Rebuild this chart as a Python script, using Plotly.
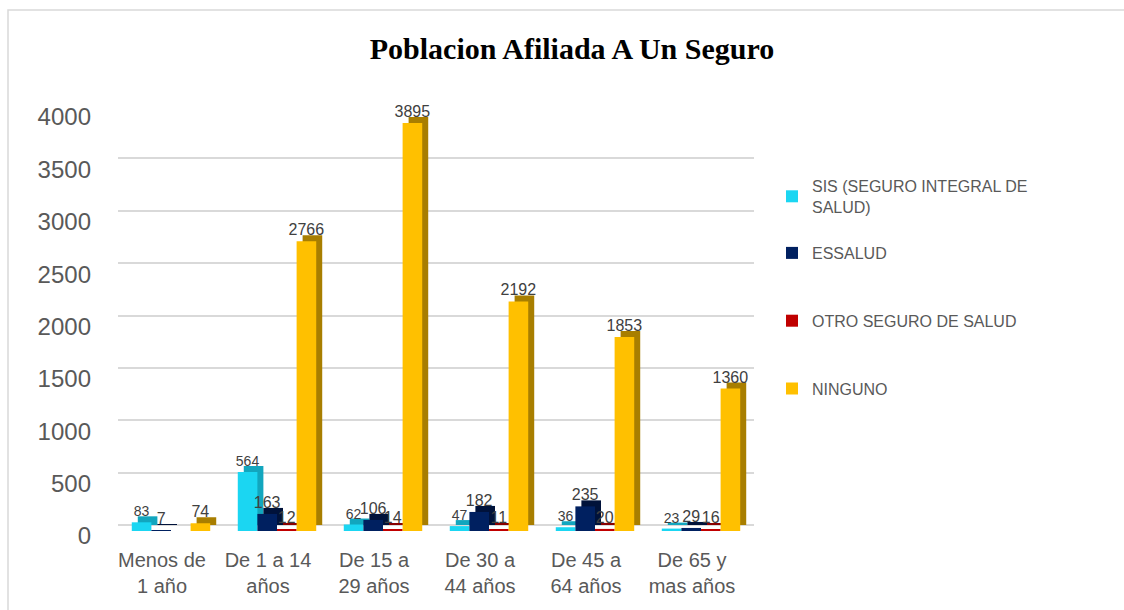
import plotly.graph_objects as go

categories = ["Menos de<br>1 año", "De 1 a 14<br>años", "De 15 a<br>29 años",
              "De 30 a<br>44 años", "De 45 a<br>64 años", "De 65 y<br>mas años"]
series_names = ["SIS (SEGURO INTEGRAL DE<br>SALUD)", "ESSALUD", "OTRO SEGURO DE SALUD", "NINGUNO"]
sis = [83, 564, 62, 47, 36, 23]
essalud = [7, 163, 106, 182, 235, 29]
otro = [None, 12, 14, 11, 20, 16]
ninguno = [74, 2766, 3895, 2192, 1853, 1360]
y_ticks = [0, 500, 1000, 1500, 2000, 2500, 3000, 3500, 4000]

front_colors = ["#1BD6F2", "#002060", "#C00000", "#FFC000"]
side_colors = ["#12A6BE", "#00123A", "#880000", "#A87E00"]
label_sizes = [14, 16, 16, 16]
values = [sis, essalud, otro, ninguno]

FONT = "Liberation Sans, Arial, sans-serif"

# plot geometry (pixels)
W, H = 1124, 610
L, R = 118, 754
T, B = 112, 531
plot_w, plot_h = R - L, B - T
ymax = 4000
dx_px, dy_px = 6, 6
dx = dx_px * 6 / plot_w
dy = dy_px * ymax / plot_h

fig = go.Figure()

# darker copies shifted up/right to give the bars a depth face
for name, vals, col in zip(series_names, values, side_colors):
    fig.add_trace(go.Bar(x=categories, y=vals, marker=dict(color=col, line=dict(width=0)),
                         showlegend=False, hoverinfo="skip", xaxis="x", yaxis="y"))

# front faces
legend_ids = ["legend", "legend2", "legend2", "legend2"]
for i, (name, vals, col) in enumerate(zip(series_names, values, front_colors)):
    fig.add_trace(go.Bar(x=categories, y=vals, name=name, legendgroup=str(i),
                         legend=legend_ids[i],
                         marker=dict(color=col, line=dict(width=0)),
                         text=[("" if v is None else str(v)) for v in vals],
                         textposition="outside", cliponaxis=False, constraintext="none",
                         textfont=dict(family=FONT, size=label_sizes[i], color="#404040"),
                         xaxis="x2", yaxis="y2"))

legend_font = dict(family=FONT, size=16, color="#595959")

fig.update_layout(
    width=W, height=H,
    margin=dict(l=L, r=W - R, t=T, b=H - B, autoexpand=False),
    paper_bgcolor="white", plot_bgcolor="white",
    barmode="group", bargap=0.26, bargroupgap=0,
    title=dict(text="<b>Poblacion Afiliada A Un Seguro</b>",
               font=dict(family="Liberation Serif, Times New Roman, serif", size=30, color="black"),
               x=572 / W, xanchor="center", xref="container", y=1 - 48 / H, yanchor="middle", yref="container"),
    xaxis=dict(type="category", range=[-0.5 - dx, 5.5 - dx], showticklabels=False,
               showgrid=False, zeroline=False, showline=False, fixedrange=True),
    yaxis=dict(range=[-dy, ymax - dy], tickvals=y_ticks, showticklabels=False,
               showgrid=True, gridcolor="#D9D9D9", gridwidth=2, zeroline=False, showline=False),
    xaxis2=dict(type="category", overlaying="x", range=[-0.5, 5.5], side="bottom",
                showgrid=False, zeroline=False, showline=False, ticks="",
                tickfont=dict(family=FONT, size=20, color="#595959"),
                ticklabelshift=-9, ticklabelstandoff=15),
    yaxis2=dict(overlaying="y", range=[0, ymax], side="left", tickvals=y_ticks,
                showgrid=False, zeroline=False, showline=False, ticks="",
                tickfont=dict(family=FONT, size=24, color="#595959"),
                ticklabelstandoff=26, ticklabelshift=5),
    legend=dict(x=(772 - L) / plot_w, xanchor="left", y=(B - 169) / plot_h, yanchor="top",
                font=legend_font, itemwidth=30, bgcolor="rgba(0,0,0,0)"),
    legend2=dict(x=(772 - L) / plot_w, xanchor="left", y=(B - 236) / plot_h, yanchor="top",
                 font=legend_font, tracegroupgap=44, itemwidth=30, bgcolor="rgba(0,0,0,0)"),
    shapes=[dict(type="rect", xref="paper", yref="paper",
                 x0=(8 - L) / plot_w, x1=(W + 20 - L) / plot_w,
                 y0=(B - (H + 20)) / plot_h, y1=(B - 10) / plot_h,
                 line=dict(color="#D9D9D9", width=1.5), fillcolor="rgba(0,0,0,0)", layer="below")],
    showlegend=True,
)

fig.write_html("out.html", config={"displayModeBar": False},
               post_script="document.body.style.margin='0px';")
